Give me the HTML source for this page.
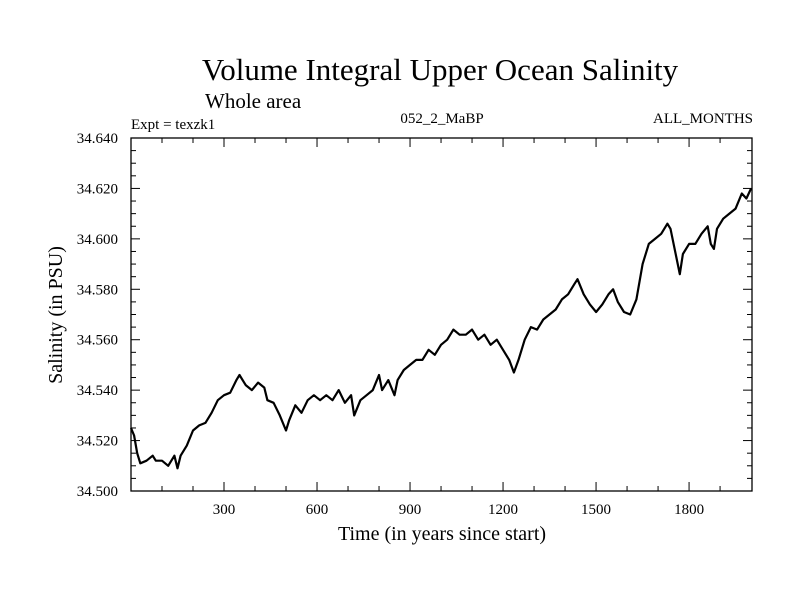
<!DOCTYPE html>
<html><head><meta charset="utf-8"><style>
body{margin:0;background:#fff}
svg text{font-family:"Liberation Serif",serif;fill:#000}
</style></head><body>
<svg id="chart" width="800" height="600">
<text x="440" y="80" font-size="31" text-anchor="middle">Volume Integral Upper Ocean Salinity</text>
<text x="205" y="108" font-size="21">Whole area</text>
<text x="131" y="129" font-size="15">Expt = texzk1</text>
<text x="442" y="123" font-size="15" text-anchor="middle">052_2_MaBP</text>
<text x="753" y="123" font-size="15" text-anchor="end">ALL_MONTHS</text>
<g id="axes"></g>
<text x="442" y="540" font-size="20" text-anchor="middle">Time (in years since start)</text>
<text transform="translate(62,315) rotate(-90)" font-size="20" text-anchor="middle">Salinity (in PSU)</text>
</svg>
<script>
const years=[0,10,20,30,50,70,80,100,120,140,150,160,180,200,220,240,260,280,300,320,340,350,370,390,410,430,440,460,480,500,510,530,550,570,590,610,630,650,670,690,710,720,740,760,780,800,810,830,850,860,880,900,920,940,960,980,1000,1020,1040,1060,1080,1100,1120,1140,1160,1180,1200,1220,1235,1250,1270,1290,1310,1330,1350,1370,1390,1410,1430,1440,1460,1480,1500,1520,1540,1555,1570,1590,1610,1630,1650,1670,1690,1710,1730,1740,1760,1770,1780,1800,1820,1840,1860,1870,1880,1890,1910,1930,1950,1970,1985,2000];
const salinity=[34.525,34.522,34.515,34.511,34.512,34.514,34.512,34.512,34.510,34.514,34.509,34.514,34.518,34.524,34.526,34.527,34.531,34.536,34.538,34.539,34.544,34.546,34.542,34.540,34.543,34.541,34.536,34.535,34.530,34.524,34.528,34.534,34.531,34.536,34.538,34.536,34.538,34.536,34.540,34.535,34.538,34.530,34.536,34.538,34.540,34.546,34.540,34.544,34.538,34.544,34.548,34.550,34.552,34.552,34.556,34.554,34.558,34.560,34.564,34.562,34.562,34.564,34.560,34.562,34.558,34.560,34.556,34.552,34.547,34.552,34.560,34.565,34.564,34.568,34.570,34.572,34.576,34.578,34.582,34.584,34.578,34.574,34.571,34.574,34.578,34.580,34.575,34.571,34.570,34.576,34.590,34.598,34.600,34.602,34.606,34.604,34.592,34.586,34.594,34.598,34.598,34.602,34.605,34.598,34.596,34.604,34.608,34.610,34.612,34.618,34.616,34.620];
const xTickLabels=[300,600,900,1200,1500,1800];
const yTickLabels=["34.500","34.520","34.540","34.560","34.580","34.600","34.620","34.640"];
const L=131,R=752,T=138,B=491,X0=0,X1=2003,Y0=34.5,Y1=34.64;
const sx=v=>L+(v-X0)/(X1-X0)*(R-L);
const sy=v=>B-(v-Y0)/(Y1-Y0)*(B-T);
const NS="http://www.w3.org/2000/svg";
const g=document.getElementById('axes');
function mk(t,a){const e=document.createElementNS(NS,t);for(const k in a)e.setAttribute(k,a[k]);g.appendChild(e);return e;}
const frame=mk('rect',{x:L,y:T,width:R-L,height:B-T,fill:'none',stroke:'#000','stroke-width':1.3});


for(let yr=100;yr<2000;yr+=100){const major=yr%300===0;const len=major?9:5;
 mk('line',{x1:sx(yr),x2:sx(yr),y1:B,y2:B-len,stroke:'#000'});
 mk('line',{x1:sx(yr),x2:sx(yr),y1:T,y2:T+len,stroke:'#000'});}
xTickLabels.forEach(v=>{const t=mk('text',{x:sx(v),y:B+23,'font-size':15,'text-anchor':'middle'});t.textContent=v;
 
 });
for(let i=1;i<28;i++){const v=Y0+i*0.005;const len=i%4===0?9:5;
 mk('line',{x1:L,x2:L+len,y1:sy(v),y2:sy(v),stroke:'#000'});
 mk('line',{x1:R,x2:R-len,y1:sy(v),y2:sy(v),stroke:'#000'});}
yTickLabels.forEach(s=>{const t=mk('text',{x:118,y:sy(parseFloat(s))+5,'font-size':15,'text-anchor':'end'});t.textContent=s;
 
 });
const d=years.map((y,i)=>(i?'L':'M')+sx(y).toFixed(1)+','+sy(salinity[i]).toFixed(1)).join('');
const p=mk('path',{d:d,fill:'none',stroke:'#000','stroke-width':2.2,'stroke-linejoin':'round'});


</script>
</body></html>
